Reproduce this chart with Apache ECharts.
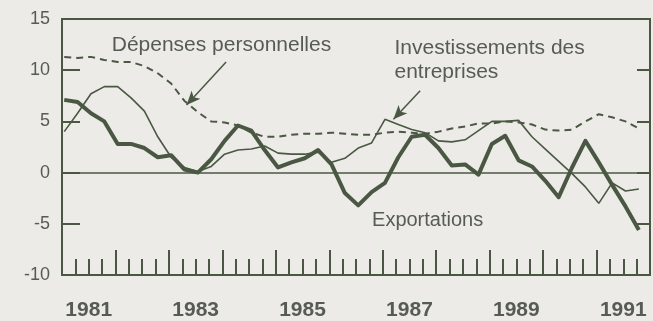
<!DOCTYPE html>
<html>
<head>
<meta charset="utf-8">
<script src="https://cdn.jsdelivr.net/npm/echarts@6/dist/echarts.min.js"></script>
<style>
  html, body { margin: 0; padding: 0; background: #ecebe7; }
  #chart { width: 653px; height: 321px; }
</style>
</head>
<body>
<div id="chart"></div>
<script>
// Quarterly growth rates (%), first quarter of 1981 onwards
const firstYear = 1981;
const exportations = [7.1, 6.9, 5.8, 5.0, 2.8, 2.8, 2.4, 1.5, 1.7, 0.3, 0.0, 1.3, 3.1, 4.6, 4.1, 2.2,
  0.5, 1.0, 1.4, 2.2, 0.8, -2.0, -3.2, -1.9, -1.0, 1.5, 3.5, 3.7, 2.4, 0.7, 0.8, -0.2,
  2.8, 3.6, 1.2, 0.6, -0.8, -2.4, 0.5, 3.1, 1.0, -1.2, -3.3, -5.6];
const investissements = [4.0, 5.8, 7.7, 8.4, 8.4, 7.3, 6.0, 3.5, 1.5, 0.5, 0.1, 0.6, 1.8, 2.2, 2.3, 2.6,
  1.9, 1.8, 1.8, 2.0, 1.0, 1.4, 2.4, 2.9, 5.2, 4.7, 4.2, 3.9, 3.1, 3.0, 3.2, 4.1,
  5.0, 5.0, 5.1, 3.5, 2.3, 1.1, -0.1, -1.4, -3.0, -1.0, -1.8, -1.6];
const depenses = [11.3, 11.2, 11.3, 11.0, 10.8, 10.8, 10.4, 9.7, 8.7, 7.0, 5.9, 5.0, 4.9, 4.6, 3.9, 3.5,
  3.5, 3.7, 3.8, 3.8, 3.9, 3.8, 3.7, 3.7, 3.9, 4.0, 3.9, 3.8, 4.0, 4.3, 4.5, 4.8,
  4.8, 5.0, 4.9, 4.7, 4.2, 4.1, 4.2, 5.0, 5.7, 5.4, 5.0, 4.3];
const yTicks = [-10, -5, 0, 5, 10, 15];
const yearLabels = [1981, 1983, 1985, 1987, 1989, 1991];

const INK = '#4a5843';
const TEXT = '#575b55';
const FONT = '"Liberation Sans", Arial, Helvetica, sans-serif';

// each quarterly value sits in the middle of the quarter's first month
const quarterX = k => firstYear + k / 4 + 1 / 24;
const toPoints = arr => arr.map((v, k) => [quarterX(k), v]);

const yearLabel = v => {
  const y = Math.round(v - 0.5);
  return (Math.abs(v - 0.5 - y) < 1e-6 && yearLabels.includes(y)) ? String(y) : '';
};

const xBase = {
  type: 'value', min: 1981, max: 1992, position: 'bottom', gridIndex: 0,
  axisLine: { show: false, onZero: false }, splitLine: { show: false },
  axisLabel: { show: false }, axisTick: { show: false }
};
const yBase = {
  type: 'value', min: -10, max: 15, interval: 5, splitLine: { show: false },
  axisLine: { show: true, onZero: false, lineStyle: { color: INK, width: 2 } }
};

const chart = echarts.init(document.getElementById('chart'), null, { renderer: 'canvas' });
chart.setOption({
  backgroundColor: '#ecebe7',
  animation: false,
  grid: { left: 62, top: 19, width: 594, height: 262, show: true,
          borderColor: INK, borderWidth: 2, backgroundColor: 'transparent' },
  xAxis: [
    Object.assign({}, xBase, {
      interval: 0.25,
      axisLine: { show: true, onZero: false, lineStyle: { color: INK, width: 2 } },
      axisTick: { show: true, inside: true, length: 16, lineStyle: { color: INK, width: 2 } }
    }),
    Object.assign({}, xBase, {
      interval: 1,
      axisTick: { show: true, inside: true, length: 25, lineStyle: { color: INK, width: 2 } }
    }),
    Object.assign({}, xBase, {
      interval: 0.5,
      axisLabel: { show: true, margin: 25, fontFamily: FONT, fontWeight: 'bold',
                   fontSize: 21, color: TEXT, formatter: yearLabel }
    })
  ],
  yAxis: [
    Object.assign({}, yBase, {
      position: 'left',
      axisTick: { show: true, inside: true, length: 18, lineStyle: { color: INK, width: 2 } },
      axisLabel: { margin: 12, fontFamily: FONT, fontSize: 18, color: TEXT,
                   formatter: v => yTicks.includes(v) ? String(v) : '' }
    }),
    Object.assign({}, yBase, {
      position: 'right',
      axisTick: { show: true, inside: true, length: 13, lineStyle: { color: INK, width: 2 } },
      axisLabel: { show: false }
    })
  ],
  series: [
    {
      name: 'Dépenses personnelles', type: 'line', data: toPoints(depenses),
      showSymbol: false, lineStyle: { color: INK, width: 2, type: [7, 5] },
      markLine: {
        silent: true, symbol: ['none', 'arrow'], symbolSize: [9, 14],
        label: { show: false }, lineStyle: { color: INK, width: 1.5, type: 'solid' },
        data: [[{ coord: [1984.07, 10.8] }, { coord: [1983.33, 6.6] }]]
      }
    },
    {
      name: 'Investissements des entreprises', type: 'line', data: toPoints(investissements),
      showSymbol: false, lineStyle: { color: INK, width: 1.6 },
      markLine: {
        silent: true, symbol: ['none', 'arrow'], symbolSize: [9, 14],
        label: { show: false }, lineStyle: { color: INK, width: 1.5, type: 'solid' },
        data: [[{ coord: [1987.70, 8.0] }, { coord: [1987.20, 5.2] }]]
      }
    },
    {
      name: 'Exportations', type: 'line', data: toPoints(exportations),
      showSymbol: false, lineStyle: { color: INK, width: 4, join: 'round' },
      markLine: {
        silent: true, symbol: 'none', label: { show: false },
        lineStyle: { color: INK, width: 1.6, type: 'solid' },
        data: [{ yAxis: 0 }]
      }
    }
  ]
});

// series captions placed in data space
const captions = [
  { text: 'Dépenses personnelles', at: [1981.93, 12.4], size: 21 },
  { text: 'Investissements des\nentreprises', at: [1987.22, 11.0], size: 21 },
  { text: 'Exportations', at: [1986.80, -4.66], size: 20 }
];
chart.setOption({
  graphic: captions.map(c => {
    const p = chart.convertToPixel({ gridIndex: 0 }, c.at);
    return {
      type: 'text', x: p[0], y: p[1], silent: true,
      style: { text: c.text, fill: TEXT, fontFamily: FONT, fontSize: c.size,
               lineHeight: 24, align: 'left', verticalAlign: 'middle' }
    };
  })
});
</script>
</body>
</html>
